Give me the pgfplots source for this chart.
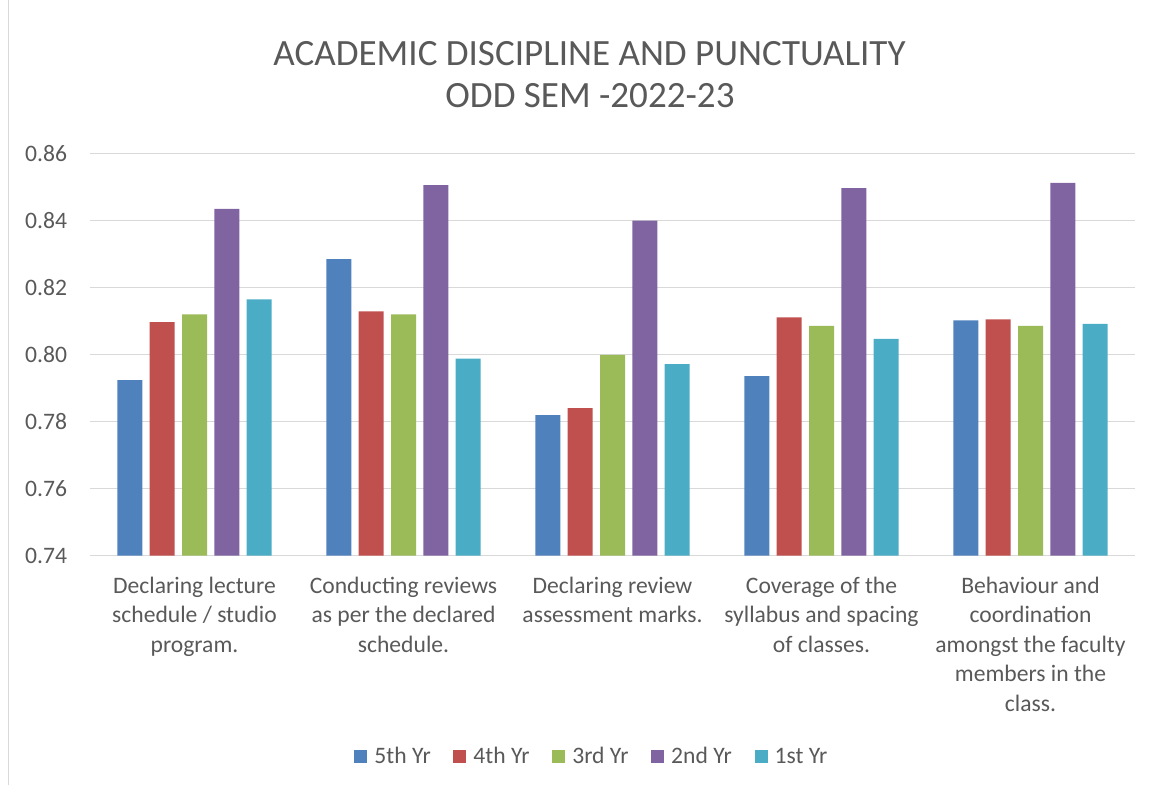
\documentclass[border=0pt]{standalone}
\usepackage{fontspec}
\setmainfont{Carlito}
\usepackage{pgfplots}
\pgfplotsset{compat=1.18}
\definecolor{cA}{HTML}{4F81BD}
\definecolor{cB}{HTML}{C0504D}
\definecolor{cC}{HTML}{9BBB59}
\definecolor{cD}{HTML}{8064A2}
\definecolor{cE}{HTML}{4BACC6}
\definecolor{txt}{HTML}{595959}
\definecolor{gridc}{HTML}{D9D9D9}
\begin{document}
\begin{tikzpicture}
\path[use as bounding box] (0,0) rectangle (875.25pt,588.75pt);
\draw[gridc, line width=0.75pt] (6pt,0) -- (6pt,588.75pt);
\node[anchor=base, text=txt, font=\fontsize{27.8}{33}\selectfont, inner sep=0pt] at (442.1pt,539.25pt) {ACADEMIC DISCIPLINE AND PUNCTUALITY};
\node[anchor=base, text=txt, font=\fontsize{27.8}{33}\selectfont, inner sep=0pt] at (442.5pt,507.75pt) {ODD SEM -2022-23};
\begin{axis}[
  at={(67.5pt,172.1pt)}, anchor=south west,
  scale only axis, width=783.75pt, height=301.35pt,
  xmin=-0.5, xmax=4.5, ymin=0.74, ymax=0.86,
  ybar=5.45pt, bar width=18.75pt,
  xtick={0,1,2,3,4},
  xticklabels={{Declaring lecture\\schedule / studio\\program.},
               {Conducting reviews\\as per the declared\\schedule.},
               {Declaring review\\assessment marks.},
               {Coverage of the\\syllabus and spacing\\of classes.},
               {Behaviour and\\coordination\\amongst the faculty\\members in the\\class.}},
  ytick={0.74,0.76,0.78,0.8,0.82,0.84,0.86},
  /pgf/number format/fixed, /pgf/number format/fixed zerofill,
  /pgf/number format/precision=2, /pgf/number format/assume math mode=true,
  y tick label style={anchor=east, inner sep=0pt, xshift=-17pt},
  x tick label style={anchor=north, inner sep=0pt, yshift=-16pt, align=center},
  tick label style={text=txt, font=\fontsize{17.7}{22.1}\selectfont},
  ymajorgrids, grid style={gridc, line width=0.75pt},
  axis line style={draw=none},
  major tick length=0pt,
  legend columns=-1,
  legend style={draw=none, fill=none, at={(0.4794,-0.5)}, anchor=center,
    inner sep=0pt,
    nodes={inner sep=0pt, text=txt, font=\fontsize{17.7}{22.1}\selectfont},
    /tikz/every odd column/.append style={column sep=5.25pt},
    /tikz/every even column/.append style={column sep=17pt}},
  legend image code/.code={\fill[#1] (0pt,-4.875pt) rectangle (9.75pt,4.875pt);},
]
\addplot[fill=cA, draw=none] coordinates {(0,0.7924) (1,0.8285) (2,0.7819) (3,0.7936) (4,0.8102)};
\addplot[fill=cB, draw=none] coordinates {(0,0.8097) (1,0.8129) (2,0.7840) (3,0.8111) (4,0.8105)};
\addplot[fill=cC, draw=none] coordinates {(0,0.8120) (1,0.8120) (2,0.7999) (3,0.8086) (4,0.8086)};
\addplot[fill=cD, draw=none] coordinates {(0,0.8435) (1,0.8506) (2,0.8400) (3,0.8497) (4,0.8513)};
\addplot[fill=cE, draw=none] coordinates {(0,0.8165) (1,0.7988) (2,0.7972) (3,0.8047) (4,0.8092)};
\legend{5th Yr, 4th Yr, 3rd Yr, 2nd Yr, 1st Yr}
\end{axis}
\end{tikzpicture}
\end{document}
